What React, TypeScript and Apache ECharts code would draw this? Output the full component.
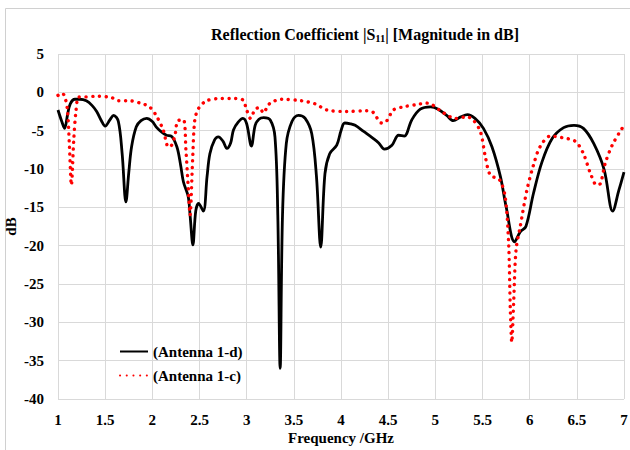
import React, { useEffect, useRef } from "react";
import * as echarts from "echarts";

// Antenna 1-d: frequency (GHz) and |S11| (dB)
const freqD = [
  1.0, 1.04, 1.07, 1.1, 1.13, 1.18, 1.23, 1.3, 1.36, 1.41, 1.46, 1.5, 1.55, 1.59, 1.64, 1.68,
  1.72, 1.75, 1.78, 1.83, 1.88, 1.94, 2.0, 2.04, 2.1, 2.15, 2.2, 2.26, 2.3, 2.33, 2.38, 2.4,
  2.43, 2.46, 2.49, 2.54, 2.58, 2.61, 2.66, 2.7, 2.75, 2.79, 2.83, 2.86, 2.91, 2.96, 3.0, 3.05,
  3.09, 3.13, 3.18, 3.25, 3.3, 3.33, 3.355, 3.38, 3.42, 3.48, 3.55, 3.62, 3.69, 3.74, 3.785, 3.83,
  3.88, 3.955, 4.0, 4.04, 4.1, 4.15, 4.24, 4.34, 4.4, 4.46, 4.54, 4.61, 4.67, 4.75, 4.84, 4.95,
  5.03, 5.12, 5.19, 5.27, 5.34, 5.42, 5.51, 5.6, 5.69, 5.75, 5.84, 5.9, 5.96, 6.04, 6.13, 6.24,
  6.36, 6.47, 6.57, 6.68, 6.79, 6.88, 6.945, 7.0,
];
const s11D = [
  -2.3, -3.8, -4.7, -3.0, -1.5, -0.9, -0.9, -1.1, -1.7, -2.5, -3.7, -4.4, -3.6, -3.0, -3.8, -8.0,
  -14.3, -10.5, -7.1, -4.5, -3.7, -3.4, -3.8, -4.5, -5.2, -5.6, -5.7, -7.1, -9.5, -11.7, -13.6, -16.0,
  -19.9, -15.5, -14.5, -15.5, -11.0, -8.0, -6.2, -5.8, -6.4, -7.3, -6.6, -4.9, -3.9, -3.4, -4.1, -7.0,
  -4.3, -3.5, -3.3, -3.6, -5.8, -16.0, -36.0, -16.0, -6.7, -3.8, -3.0, -3.4, -5.4, -11.0, -20.2, -10.6,
  -8.0, -6.9, -5.0, -4.0, -4.1, -4.3, -5.1, -6.0, -6.6, -7.4, -6.9, -5.6, -5.7, -3.6, -2.2, -1.9,
  -2.2, -3.0, -3.7, -3.2, -2.9, -3.4, -4.7, -7.1, -11.0, -14.9, -19.5, -18.2, -17.5, -13.2, -9.1, -6.0,
  -4.6, -4.3, -4.7, -6.7, -10.1, -15.5, -12.8, -10.4,
];

// Antenna 1-c: frequency (GHz) and |S11| (dB)
const freqC = [
  1.0, 1.04, 1.07, 1.1, 1.12, 1.142, 1.167, 1.19, 1.22, 1.28, 1.42, 1.57, 1.64, 1.76, 1.87, 1.97,
  2.04, 2.115, 2.17, 2.2, 2.24, 2.27, 2.33, 2.356, 2.38, 2.4, 2.427, 2.45, 2.49, 2.575, 2.735, 2.876,
  2.96, 3.0, 3.04, 3.09, 3.14, 3.176, 3.21, 3.25, 3.37, 3.58, 3.725, 3.85, 4.06, 4.27, 4.34, 4.43,
  4.48, 4.556, 4.66, 4.8, 4.91, 4.964, 5.09, 5.21, 5.335, 5.4, 5.477, 5.53, 5.583, 5.68, 5.74, 5.777,
  5.795, 5.81, 5.83, 5.855, 5.9, 5.97, 6.04, 6.11, 6.22, 6.34, 6.485, 6.57, 6.645, 6.71, 6.75, 6.8,
  6.875, 6.98, 7.0,
];
const s11C = [
  -0.4, -0.1, -0.5, -2.3, -6.7, -12.1, -6.2, -2.5, -0.6, -0.6, -0.5, -0.7, -1.1, -1.1, -1.4, -1.9,
  -3.0, -4.9, -7.1, -7.0, -5.6, -3.7, -3.6, -7.5, -12.3, -16.0, -8.8, -3.6, -2.1, -1.1, -0.8, -0.8,
  -1.0, -2.3, -3.4, -2.2, -2.0, -2.7, -2.1, -1.4, -0.9, -1.1, -1.5, -2.3, -2.5, -2.4, -2.6, -4.0,
  -3.8, -2.3, -1.9, -1.6, -1.4, -1.6, -2.7, -3.4, -3.2, -3.6, -5.1, -8.4, -10.8, -11.4, -13.6, -19.7,
  -28.4, -32.6, -27.5, -20.6, -17.5, -12.8, -9.5, -7.1, -5.7, -5.9, -6.4, -8.0, -10.6, -12.1, -11.9, -9.3,
  -6.9, -4.7, -4.5,
];

const seriesNames = ["(Antenna 1-d)", "(Antenna 1-c)"];

const SERIF = "'Liberation Serif', 'Times New Roman', serif";

export default function App() {
  const ref = useRef<HTMLDivElement>(null);

  useEffect(() => {
    if (!ref.current) return;
    const chart = echarts.init(ref.current, null, { renderer: "svg" });
    const pairs = (xs: number[], ys: number[]) => xs.map((x, i) => [x, ys[i]]);
    const labelStyle = {
      fontFamily: SERIF,
      fontWeight: "bold" as const,
      fontSize: 15,
      color: "#000",
    };

    chart.setOption({
      animation: false,
      backgroundColor: "#fff",
      title: {
        // "11" is set as a subscript of S
        text: "{a|Reflection Coefficient |S}{s|11}{a|| [Magnitude in dB]}",
        left: 360,
        textAlign: "center",
        top: 19,
        textStyle: {
          rich: {
            a: { fontFamily: SERIF, fontWeight: "bold", fontSize: 16, color: "#000", lineHeight: 20, verticalAlign: "middle" },
            s: { fontFamily: SERIF, fontWeight: "bold", fontSize: 10.5, color: "#000", lineHeight: 10, verticalAlign: "bottom" },
          },
        },
      },
      graphic: [
        {
          type: "rect",
          shape: { x: 5.5, y: 8.5, width: 640, height: 460 },
          style: { fill: "none", stroke: "#d0d0d0", lineWidth: 1 },
          silent: true,
        },
      ],
      legend: {
        orient: "vertical",
        left: 114,
        top: 339,
        itemWidth: 28,
        itemHeight: 14,
        itemGap: 9,
        itemStyle: { opacity: 0 },
        textStyle: { ...labelStyle },
        data: seriesNames,
      },
      grid: {
        left: 58,
        right: 6,
        top: 54,
        bottom: 51,
        containLabel: false,
        outerBoundsMode: "none",
      },
      xAxis: {
        type: "value",
        min: 1,
        max: 7,
        interval: 0.5,
        name: "Frequency /GHz",
        nameLocation: "middle",
        nameGap: 31,
        nameMoveOverlap: false,
        nameTextStyle: labelStyle,
        axisLine: { show: false },
        axisTick: { show: false },
        axisLabel: { ...labelStyle, margin: 13 },
        splitLine: { show: true, lineStyle: { color: "#d9d9d9", width: 1 } },
      },
      yAxis: {
        type: "value",
        min: -40,
        max: 5,
        interval: 5,
        name: "dB",
        nameLocation: "middle",
        nameGap: 40,
        nameMoveOverlap: false,
        nameTextStyle: labelStyle,
        axisLine: { show: false },
        axisTick: { show: false },
        axisLabel: { ...labelStyle, margin: 14 },
        splitLine: { show: true, lineStyle: { color: "#d9d9d9", width: 1 } },
      },
      series: [
        {
          name: seriesNames[0],
          type: "line",
          data: pairs(freqD, s11D),
          smooth: 0.35,
          showSymbol: false,
          symbol: "none",
          color: "#000",
          lineStyle: { color: "#000", width: 2.8 },
          z: 3,
        },
        {
          name: seriesNames[1],
          type: "line",
          data: pairs(freqC, s11C),
          smooth: 0.3,
          showSymbol: false,
          symbol: "none",
          color: "#ff0000",
          lineStyle: { color: "#ff0000", width: 3.4, type: [0.1, 6.6], cap: "round" },
          z: 4,
        },
      ],
    });
    return () => chart.dispose();
  }, []);

  return (
    <div
      ref={ref}
      style={{ position: "fixed", left: 0, top: 0, width: 630, height: 450 }}
    />
  );
}
